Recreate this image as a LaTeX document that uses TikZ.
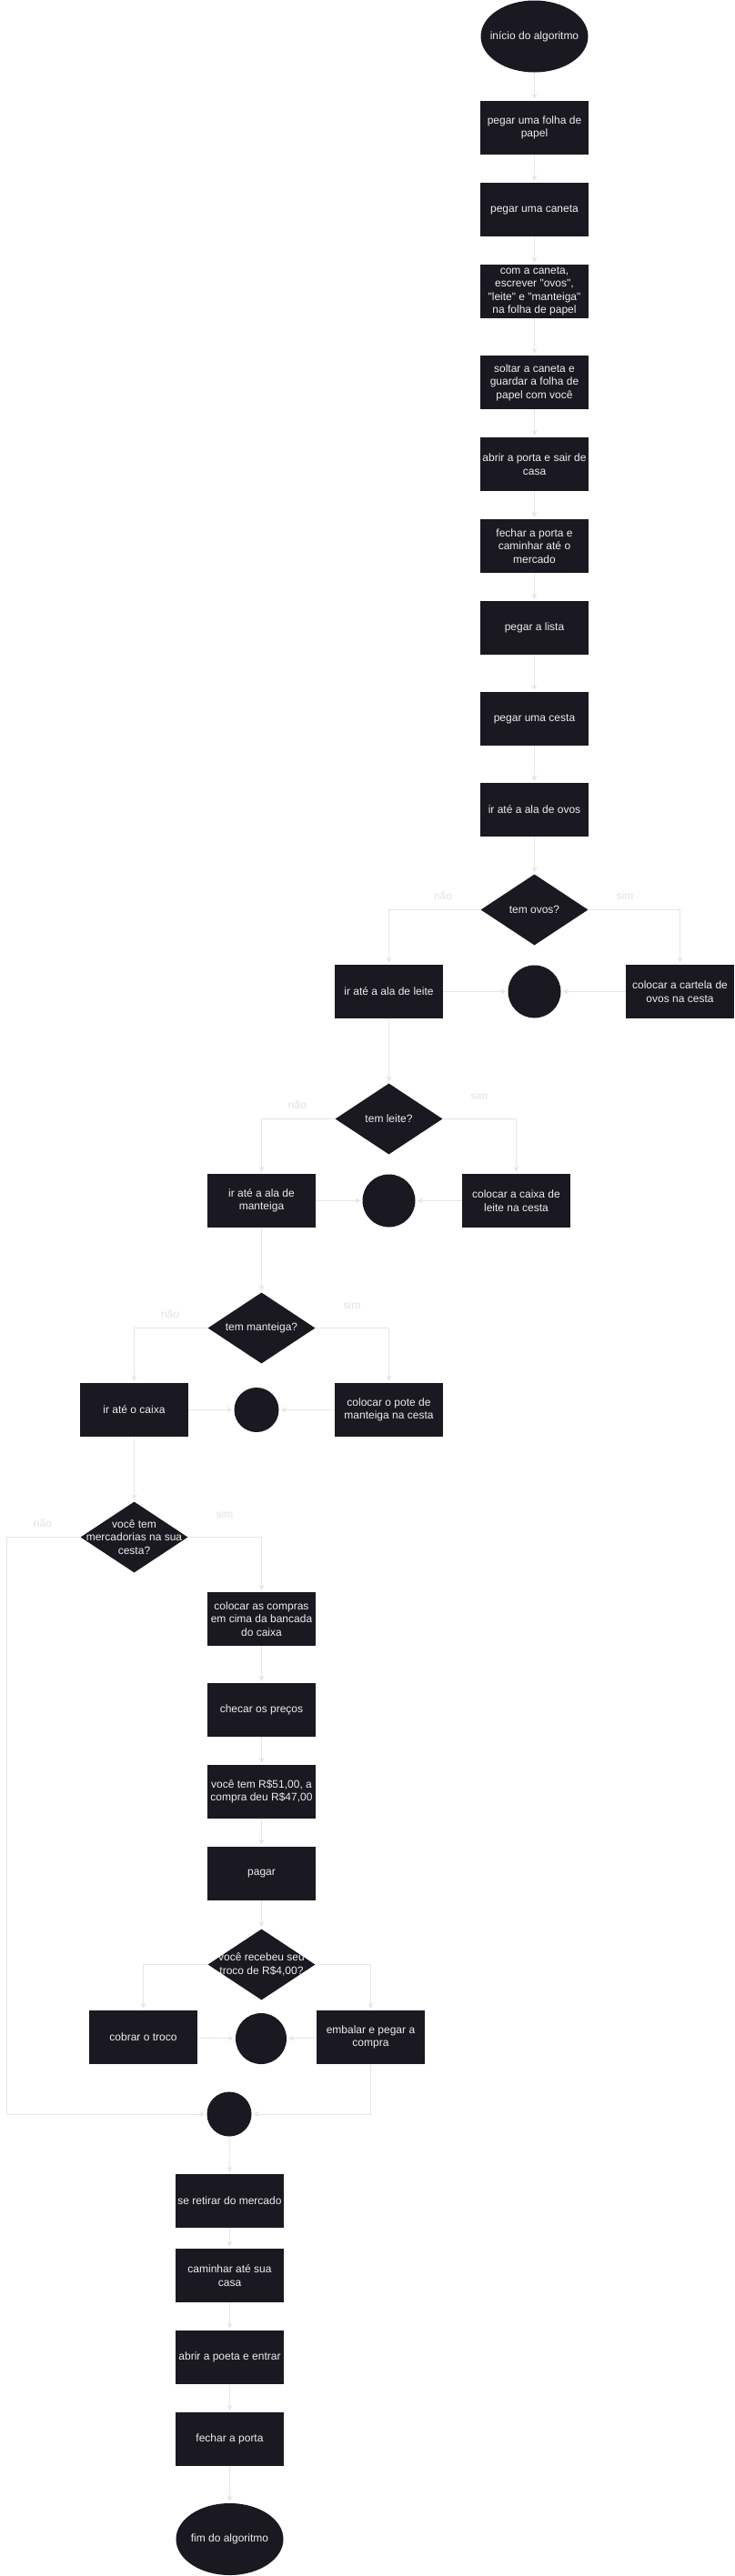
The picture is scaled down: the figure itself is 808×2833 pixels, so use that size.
\documentclass[tikz,border=0pt]{standalone}
\usepackage{fontspec}
\usetikzlibrary{shapes.geometric,arrows.meta}
\newfontfamily\lsans{Liberation Sans}
\newcommand\nodefont{\lsans\fontsize{12}{14.5}\selectfont}
\definecolor{nodefill}{HTML}{1A1820}
\definecolor{nodetext}{HTML}{EDEDED}
\definecolor{linec}{HTML}{E6E6E6}
\definecolor{lblc}{HTML}{E2E2E2}
\tikzset{
  base/.style={fill=nodefill, text=nodetext, font=\nodefont, inner sep=0pt, draw=none},
  proc/.style={base, rectangle, minimum width=119pt, minimum height=59pt, align=center},
  term/.style={base, ellipse, minimum width=118pt, minimum height=79pt},
  dec/.style={base, diamond, minimum width=118pt, minimum height=78pt},
  joint/.style={base, circle, minimum size=58pt},
  jointsmall/.style={base, circle, minimum size=49pt},
  intext/.style={text=nodetext, font=\nodefont, align=center, inner sep=0pt},
  flow/.style={draw=linec, line width=0.9pt, -{Stealth[length=6pt,width=6pt,inset=2pt]}, shorten >=2pt},
  lbl/.style={text=lblc, font=\nodefont, inner sep=0pt}
}
\begin{document}
\begin{tikzpicture}[x=1pt,y=-1pt]
\fill[white] (0,0) rectangle (808,2833);
\useasboundingbox (0,0) rectangle (808,2833);

% main column
\node[term, label={[intext]center:início do algoritmo}] (start) at (587.5,40) {};
\node[proc] (b1) at (587.5,140.5) {pegar uma folha de\\papel};
\node[proc] (b2) at (587.5,230.5) {pegar uma caneta};
\node[proc] (b3) at (587.5,320.5) {com a caneta,\\escrever "ovos",\\"leite" e "manteiga"\\na folha de papel};
\node[proc] (b4) at (587.5,420.5) {soltar a caneta e\\guardar a folha de\\papel com você};
\node[proc] (b5) at (587.5,510.5) {abrir a porta e sair de\\casa};
\node[proc] (b6) at (587.5,600.5) {fechar a porta e\\caminhar até o\\mercado};
\node[proc] (b7) at (587.5,690.5) {pegar a lista};
\node[proc] (b8) at (587.5,790.5) {pegar uma cesta};
\node[proc] (b9) at (587.5,890.5) {ir até a ala de ovos};

% ovos
\node[dec, label={[intext]center:tem ovos?}] (d1) at (587.5,1000.5) {};
\node[joint] (c1) at (587.5,1090.5) {};
\node[proc] (leite) at (427.5,1090.5) {ir até a ala de leite};
\node[proc] (cartela) at (747.5,1090.5) {colocar a cartela de\\ovos na cesta};
\node[lbl] (l1n) at (487,985) {não};
\node[lbl] (l1s) at (687,985) {sim};

% leite
\node[dec, label={[intext]center:tem leite?}] (d2) at (427.5,1230.5) {};
\node[joint] (c2) at (427.5,1320.5) {};
\node[proc] (mant) at (287.5,1320.5) {ir até a ala de\\manteiga};
\node[proc] (cxleite) at (567.5,1320.5) {colocar a caixa de\\leite na cesta};
\node[lbl] (l2n) at (327,1215) {não};
\node[lbl] (l2s) at (527,1205) {sim};

% manteiga
\node[dec, label={[intext]center:tem manteiga?}] (d3) at (287.5,1460.5) {};
\node[jointsmall] (c3) at (282,1550.5) {};
\node[proc] (caixa) at (147.5,1550.5) {ir até o caixa};
\node[proc] (pote) at (427.5,1550.5) {colocar o pote de\\manteiga na cesta};
\node[lbl] (l3n) at (187,1445) {não};
\node[lbl] (l3s) at (387,1435) {sim};

% mercadorias
\node[dec, label={[intext]center:{você tem\\mercadorias na sua\\cesta?}}] (d4) at (147.5,1690.5) {};
\node[lbl] (l4n) at (47,1675) {não};
\node[lbl] (l4s) at (247,1665) {sim};
\node[proc] (compras) at (287.5,1780.5) {colocar as compras\\em cima da bancada\\do caixa};
\node[proc] (checar) at (287.5,1880.5) {checar os preços};
\node[proc] (vtem) at (287.5,1970.5) {você tem R\$51,00, a\\compra deu R\$47,00};
\node[proc] (pagar) at (287.5,2060.5) {pagar};

% troco
\node[dec, label={[intext]center:{você recebeu seu\\troco de R\$4,00?}}] (d5) at (287.5,2160.5) {};
\node[proc] (cobrar) at (157.5,2240.5) {cobrar o troco};
\node[joint, minimum size=56pt] (c5) at (287,2242) {};
\node[proc] (embalar) at (407.5,2240.5) {embalar e pegar a\\compra};

% merge and end
\node[jointsmall] (c6) at (252,2325) {};
\coordinate (lp) at (7,2325);
\node[proc] (retirar) at (252.5,2420.5) {se retirar do mercado};
\node[proc] (caminhar) at (252.5,2502.5) {caminhar até sua\\casa};
\node[proc] (abrir) at (252.5,2592.5) {abrir a poeta e entrar};
\node[proc] (fechar) at (252.5,2682.5) {fechar a porta};
\node[term, label={[intext]center:fim do algoritmo}] (fim) at (252.5,2792.5) {};

% connectors
\draw[flow] (start) -- (b1);
\draw[flow] (b1) -- (b2);
\draw[flow] (b2) -- (b3);
\draw[flow] (b3) -- (b4);
\draw[flow] (b4) -- (b5);
\draw[flow] (b5) -- (b6);
\draw[flow] (b6) -- (b7);
\draw[flow] (b7) -- (b8);
\draw[flow] (b8) -- (b9);
\draw[flow] (b9) -- (d1);

\draw[flow] (d1.west) -| (leite.north);
\draw[flow] (d1.east) -| (cartela.north);
\draw[flow] (leite) -- (c1);
\draw[flow] (cartela) -- (c1);
\draw[flow] (leite) -- (d2);

\draw[flow] (d2.west) -| (mant.north);
\draw[flow] (d2.east) -| (cxleite.north);
\draw[flow] (mant) -- (c2);
\draw[flow] (cxleite) -- (c2);
\draw[flow] (mant) -- (d3);

\draw[flow] (d3.west) -| (caixa.north);
\draw[flow] (d3.east) -| (pote.north);
\draw[flow] (caixa) -- (c3);
\draw[flow] (pote) -- (c3);
\draw[flow] (caixa) -- (d4);

\draw[flow] (d4.west) -| (lp) -- (c6);
\draw[flow] (d4.east) -| (compras.north);
\draw[flow] (compras) -- (checar);
\draw[flow] (checar) -- (vtem);
\draw[flow] (vtem) -- (pagar);
\draw[flow] (pagar) -- (d5);

\draw[flow] (d5.west) -| (cobrar.north);
\draw[flow] (d5.east) -| (embalar.north);
\draw[flow] (cobrar) -- (c5);
\draw[flow] (embalar) -- (c5);
\draw[flow] (embalar.south) |- (c6);

\draw[flow] (c6) -- (retirar);
\draw[flow] (retirar) -- (caminhar);
\draw[flow] (caminhar) -- (abrir);
\draw[flow] (abrir) -- (fechar);
\draw[flow] (fechar) -- (fim);
\end{tikzpicture}
\end{document}
